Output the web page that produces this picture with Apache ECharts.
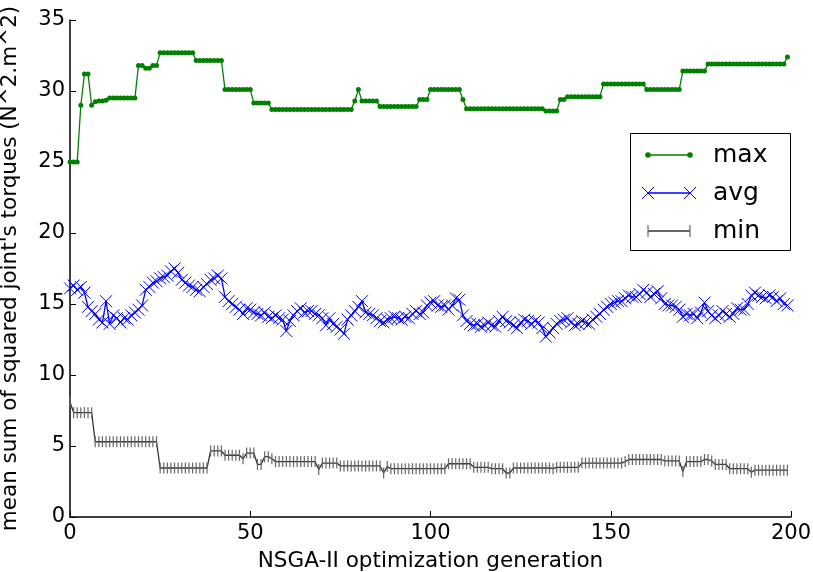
<!DOCTYPE html>
<html>
<head>
<meta charset="utf-8">
<script src="https://cdn.jsdelivr.net/npm/echarts@6/dist/echarts.min.js"></script>
<style>
html, body { margin: 0; padding: 0; background: #fff; }
#container { width: 813px; height: 572px; }
</style>
</head>
<body>
<div id="container"></div>
<script>
// best individual per generation
let maxVals = [
    25.0,25.0,25.0,29.0,31.2,31.2,29.0,29.25,29.3,29.3,
    29.35,29.5,29.5,29.5,29.5,29.5,29.5,29.5,29.5,31.8,
    31.8,31.6,31.6,31.8,31.8,32.7,32.7,32.7,32.7,32.7,
    32.7,32.7,32.7,32.7,32.7,32.15,32.15,32.15,32.15,32.15,
    32.15,32.15,32.15,30.1,30.1,30.1,30.1,30.1,30.1,30.1,
    30.1,29.15,29.15,29.15,29.15,29.15,28.7,28.7,28.7,28.7,
    28.7,28.7,28.7,28.7,28.7,28.7,28.7,28.7,28.7,28.7,
    28.7,28.7,28.7,28.7,28.7,28.7,28.7,28.7,28.7,29.3,
    30.1,29.3,29.3,29.3,29.3,29.3,28.9,28.9,28.9,28.9,
    28.9,28.9,28.9,28.9,28.9,28.9,28.9,29.4,29.4,29.4,
    30.1,30.1,30.1,30.1,30.1,30.1,30.1,30.1,30.1,29.4,
    28.75,28.75,28.75,28.75,28.75,28.75,28.75,28.75,28.75,28.75,
    28.75,28.75,28.75,28.75,28.75,28.75,28.75,28.75,28.75,28.75,
    28.75,28.75,28.6,28.6,28.6,28.6,29.4,29.4,29.6,29.6,
    29.6,29.6,29.6,29.6,29.6,29.6,29.6,29.6,30.5,30.5,
    30.5,30.5,30.5,30.5,30.5,30.5,30.5,30.5,30.5,30.5,
    30.1,30.1,30.1,30.1,30.1,30.1,30.1,30.1,30.1,30.1,
    31.4,31.4,31.4,31.4,31.4,31.4,31.4,31.9,31.9,31.9,
    31.9,31.9,31.9,31.9,31.9,31.9,31.9,31.9,31.9,31.9,
    31.9,31.9,31.9,31.9,31.9,31.9,31.9,31.9,31.9,32.4
];

let avgVals = [
    16.1,16.3,16.0,16.2,15.8,14.8,14.5,14.3,13.9,13.7,
    15.2,13.6,14.2,14.0,13.7,14.0,13.9,14.2,14.4,14.6,
    14.9,16.0,16.2,16.5,16.6,16.8,16.9,17.0,17.3,17.5,
    17.2,16.7,16.5,16.3,16.2,16.0,15.9,16.2,16.4,16.7,
    16.8,17.0,16.8,15.5,15.2,15.0,14.8,14.6,14.3,14.7,
    14.6,14.4,14.3,14.2,14.4,14.1,14.0,14.2,14.0,13.9,
    13.1,13.8,14.2,14.5,14.7,14.4,14.5,14.5,14.3,14.2,
    14.0,13.5,14.0,13.6,13.4,13.2,12.9,13.9,14.2,14.5,
    14.8,15.2,14.4,14.3,14.2,14.0,13.8,13.7,13.9,14.0,
    14.1,14.0,13.9,14.1,14.0,14.3,14.5,14.3,14.4,14.9,
    15.1,15.2,14.9,14.8,14.9,14.6,14.9,15.4,15.3,14.2,
    13.8,13.6,13.5,13.6,13.4,13.5,13.7,13.5,13.4,13.8,
    14.1,13.8,13.7,13.5,13.3,13.7,13.9,13.8,13.6,13.8,
    13.7,13.3,12.7,13.0,13.3,13.6,13.8,13.9,14.0,13.7,
    13.5,13.6,13.8,13.7,13.6,13.9,14.1,14.3,14.6,14.8,
    15.0,15.1,15.2,15.2,15.4,15.6,15.5,15.5,15.7,16.0,
    15.8,15.5,15.7,15.9,15.4,15.0,14.9,14.9,14.8,14.6,
    14.1,14.3,14.2,14.3,14.0,14.4,15.1,14.5,14.2,14.0,
    14.2,14.5,14.3,14.1,14.3,14.7,14.6,14.6,15.0,15.6,
    15.8,15.6,15.5,15.4,15.6,15.5,15.2,15.4,15.0,14.9
];

let minVals = [
    8.1,7.35,7.35,7.35,7.35,7.35,7.35,5.3,5.3,5.3,
    5.3,5.3,5.3,5.3,5.3,5.3,5.3,5.3,5.3,5.3,
    5.3,5.3,5.3,5.3,5.3,3.45,3.45,3.45,3.45,3.45,
    3.45,3.45,3.45,3.45,3.45,3.45,3.45,3.45,3.45,4.65,
    4.65,4.65,4.65,4.35,4.35,4.35,4.35,4.35,4.1,4.5,
    4.5,4.5,3.7,3.7,4.25,4.25,4.1,3.9,3.9,3.9,
    3.9,3.9,3.9,3.9,3.9,3.9,3.9,3.9,3.9,3.35,
    3.8,3.8,3.8,3.8,3.8,3.6,3.6,3.6,3.6,3.6,
    3.6,3.6,3.6,3.6,3.6,3.6,3.6,3.1,3.55,3.4,
    3.4,3.4,3.4,3.4,3.4,3.4,3.4,3.4,3.4,3.4,
    3.4,3.4,3.4,3.4,3.4,3.75,3.75,3.75,3.75,3.75,
    3.75,3.75,3.5,3.5,3.5,3.5,3.5,3.4,3.4,3.4,
    3.4,3.1,3.1,3.45,3.45,3.45,3.45,3.45,3.45,3.45,
    3.45,3.45,3.45,3.45,3.4,3.5,3.5,3.5,3.5,3.5,
    3.5,3.5,3.8,3.8,3.8,3.8,3.8,3.8,3.8,3.8,
    3.8,3.8,3.8,3.8,3.9,4.05,4.05,4.05,4.05,4.05,
    4.05,4.05,4.05,4.05,4.05,3.95,3.95,3.95,3.95,3.95,
    3.2,3.9,3.9,3.9,3.9,3.9,4.05,4.05,3.95,3.7,
    3.7,3.7,3.7,3.4,3.4,3.4,3.4,3.4,3.4,3.15,
    3.3,3.3,3.3,3.3,3.3,3.3,3.3,3.3,3.3,3.3
];

let seriesNames = ['max', 'avg', 'min'];
let xTicks = [0, 200, 50];
let yTicks = [0, 35, 5];

let pts = (arr) => arr.map((v, i) => [i, v]);

let font = 'DejaVu Sans';
let crossPath = 'path://M0,0L10,10M10,0L0,10';
let colors = { max: 'green', avg: 'blue', min: '#333', minMark: '#666' };

// legend drawn by hand so the sample shows a marker at each end, like matplotlib
function legendGraphic() {
    let els = [{
        type: 'rect', left: 630, top: 133,
        shape: { width: 160, height: 117 },
        style: { fill: '#fff', stroke: '#000', lineWidth: 1 }
    }];
    let x0 = 648, x1 = 690;
    seriesNames.forEach((name, k) => {
        let y = 155 + k * 38;
        let c = colors[name];
        els.push({ type: 'line', shape: { x1: x0, y1: y, x2: x1, y2: y }, style: { stroke: c, lineWidth: 1.3 } });
        [x0, x1].forEach((x) => {
            if (name === 'max') {
                els.push({ type: 'circle', shape: { cx: x, cy: y, r: 2.8 }, style: { fill: c } });
            } else if (name === 'avg') {
                els.push({ type: 'line', shape: { x1: x - 6, y1: y - 6, x2: x + 6, y2: y + 6 }, style: { stroke: c, lineWidth: 1 } });
                els.push({ type: 'line', shape: { x1: x - 6, y1: y + 6, x2: x + 6, y2: y - 6 }, style: { stroke: c, lineWidth: 1 } });
            } else {
                els.push({ type: 'line', shape: { x1: x, y1: y - 6, x2: x, y2: y + 6 }, style: { stroke: colors.minMark, lineWidth: 1.2 } });
            }
        });
        els.push({
            type: 'text', x: 713, y: y,
            style: { text: name, fontFamily: font, fontSize: 25, fill: '#000', verticalAlign: 'middle' }
        });
    });
    return els;
}

let dom = document.getElementById('container');
let chart = echarts.init(dom);

chart.setOption({
    animation: false,
    grid: { left: 70, right: 22, top: 20, bottom: 55, outerBoundsMode: 'none', containLabel: false },
    xAxis: {
        type: 'value',
        min: xTicks[0], max: xTicks[1], interval: xTicks[2],
        name: 'NSGA-II optimization generation',
        nameLocation: 'middle',
        nameGap: 33,
        nameTextStyle: { fontFamily: font, fontSize: 21.5, color: '#000' },
        axisLine: { lineStyle: { color: '#000', width: 1.5 } },
        axisTick: { inside: true, length: 6, lineStyle: { color: '#000' } },
        axisLabel: { fontFamily: font, fontSize: 21, color: '#000', margin: 6 },
        splitLine: { show: false }
    },
    yAxis: {
        type: 'value',
        min: yTicks[0], max: yTicks[1], interval: yTicks[2],
        name: "mean sum of squared joint's torques (N^2.m^2)",
        nameLocation: 'middle',
        nameGap: 49,
        nameTextStyle: { fontFamily: font, fontSize: 21.5, color: '#000' },
        axisLine: { show: true, lineStyle: { color: '#000', width: 1.5 } },
        axisTick: { show: true, inside: true, length: 6, lineStyle: { color: '#000' } },
        axisLabel: { fontFamily: font, fontSize: 21, color: '#000', margin: 5 },
        splitLine: { show: false }
    },
    graphic: legendGraphic(),
    series: [{
        name: seriesNames[0],
        type: 'line',
        data: pts(maxVals),
        symbol: 'circle',
        symbolSize: 5,
        lineStyle: { color: colors.max, width: 1.3 },
        itemStyle: { color: colors.max }
    }, {
        name: seriesNames[1],
        type: 'line',
        data: pts(avgVals),
        symbol: crossPath,
        symbolSize: 12,
        lineStyle: { color: colors.avg, width: 1.3 },
        itemStyle: { color: colors.avg, borderColor: colors.avg, borderWidth: 1 }
    }, {
        name: seriesNames[2],
        type: 'line',
        data: pts(minVals),
        symbol: 'rect',
        symbolSize: [1.2, 11],
        lineStyle: { color: colors.min, width: 1.3 },
        itemStyle: { color: colors.minMark }
    }]
});
</script>
</body>
</html>
